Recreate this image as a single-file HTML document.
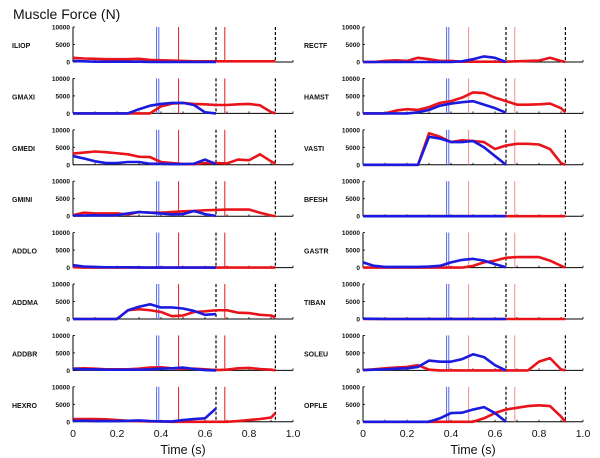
<!DOCTYPE html>
<html><head><meta charset="utf-8"><style>
html,body{margin:0;padding:0;background:#fff;}
svg{display:block;font-family:"Liberation Sans",sans-serif;}
</style></head><body>
<svg id="chart" width="600" height="458" viewBox="0 0 600 458">
<text x="13" y="19" font-size="14" fill="#111">Muscle Force (N)</text>
</svg>
<script>
const tB = [0,.05,.1,.15,.2,.25,.3,.35,.4,.45,.5,.55,.6,.65];
const tR = [0,.05,.1,.15,.2,.25,.3,.35,.4,.45,.5,.55,.6,.65,.7,.75,.8,.85,.9,.92];
const leftMuscles = ["ILIOP","GMAXI","GMEDI","GMINI","ADDLO","ADDMA","ADDBR","HEXRO"];
const rightMuscles = ["RECTF","HAMST","VASTI","BFESH","GASTR","TIBAN","SOLEU","OPFLE"];
// forces in units of 1000 N
const blueData = {
ILIOP:[0.3,0.2,0.1,0.1,0.1,0.1,0.1,0,0,0,0,0,0,0],
GMAXI:[0,0,0,0,0,0,1.2,2.2,2.7,3.0,3.0,2.4,0.3,0],
GMEDI:[2.5,1.8,1.0,0.5,0.5,0.8,0.8,0.3,0.3,0.2,0.2,0.3,1.5,0.2],
GMINI:[0.2,0.2,0.3,0.2,0.3,0.8,1.2,1.0,0.8,0.5,0.6,1.5,0.6,0.1],
ADDLO:[0.7,0.3,0.2,0.1,0.1,0.1,0.05,0,0,0,0,0,0,0],
ADDMA:[0,0,0,0,0,2.5,3.5,4.2,3.3,3.3,3.0,2.3,1.2,1.4],
ADDBR:[0.5,0.3,0.3,0.2,0.2,0.2,0.2,0.3,0.5,0.6,0.8,0.4,0.1,0],
HEXRO:[0.3,0.3,0.2,0.2,0.2,0.3,0.4,0.2,0.1,0.1,0.5,0.8,1.0,3.8],
RECTF:[0,0,0,0,0,0,0,0,0,0.2,0.8,1.6,1.2,0],
HAMST:[0,0,0,0,0,0.3,1.0,2.2,2.8,3.2,3.5,2.5,1.5,0.2],
VASTI:[0,0,0,0,0,0,8.0,7.5,6.5,6.5,6.8,5.0,2.5,0],
BFESH:[0,0,0,0,0,0,0,0,0,0,0,0,0,0],
GASTR:[1.5,0.5,0.2,0.2,0.2,0.2,0.3,0.5,1.5,2.2,2.5,2.0,1.0,0.1],
TIBAN:[0.1,0.05,0,0,0,0,0,0,0,0,0,0,0,0],
SOLEU:[0.1,0.2,0.3,0.5,0.6,1.0,2.8,2.5,2.5,3.2,4.6,3.8,1.5,0],
OPFLE:[0,0,0,0,0,0,0,1.0,2.5,2.6,3.5,4.2,2.5,0]
};
const redData = {
ILIOP:[1.2,1.0,0.9,0.8,0.8,0.8,0.9,0.6,0.5,0.4,0.3,0.2,0.2,0.2,0.2,0.2,0.2,0.2,0.2,0.2],
GMAXI:[0,0,0,0,0,0,0,0,2.0,2.8,3.0,2.7,2.6,2.4,2.4,2.6,2.7,2.3,0.4,0],
GMEDI:[3.2,3.5,3.8,3.6,3.3,3.0,2.3,2.2,0.8,0.5,0.2,0.2,0.5,0.5,0.4,1.5,1.3,3.0,1.0,0.3],
GMINI:[0.3,1.0,0.8,0.8,0.8,0.5,1.2,1.0,1.0,1.2,1.4,1.5,1.7,1.8,1.9,1.9,1.9,1.0,0.2,0],
ADDLO:[0.1,0,0,0,0,0,0,0,0,0,0,0,0,0,0,0,0,0,0,0],
ADDMA:[0,0,0,0,0,2.5,2.8,2.5,2.0,0.8,1.0,2.0,2.2,2.5,2.5,1.8,1.7,1.2,1.0,0.5],
ADDBR:[0.5,0.6,0.5,0.3,0.3,0.3,0.5,0.8,0.9,0.6,0.5,0.5,0.3,0.1,0.2,0.6,0.7,0.4,0.2,0],
HEXRO:[0.8,0.8,0.8,0.7,0.5,0.3,0.2,0.1,0.1,0,0,0,0,0,0,0.2,0.5,0.8,1.2,2.5],
RECTF:[0,0,0.3,0.5,0.3,1.2,0.8,0.3,0.3,0.1,0.1,0.1,0.1,0.1,0.2,0.3,0.4,1.2,0.3,0],
HAMST:[0,0,0,0.8,1.2,1.0,1.8,3.0,3.5,4.5,6.0,5.8,4.5,3.5,2.5,2.5,2.6,2.8,1.5,0.3],
VASTI:[0,0,0,0,0,0,9.0,8.0,6.5,7.0,6.8,6.5,4.5,5.5,6.0,6.0,5.8,4.5,0.5,0],
BFESH:[0,0,0,0,0,0,0,0,0,0,0,0,0,0,0,0,0,0,0,0],
GASTR:[0,0,0,0,0,0,0,0,0,0,0.5,1.5,2.0,2.8,3.0,3.0,3.0,2.0,0.5,0],
TIBAN:[0,0,0,0,0,0,0,0,0,0,0,0,0,0,0,0,0,0,0,0],
SOLEU:[0.1,0.3,0.6,0.8,1.0,1.5,0.2,0,0,0,0,0,0,0,0,0,2.5,3.5,0.3,0],
OPFLE:[0,0,0,0,0,0,0,0,0,0,0,1.0,2.5,3.5,4.0,4.5,4.7,4.5,1.5,0]
};
const yTickLabels = ["10000","5000","0"];
const yTickValues = [10,5,0];
const xTickLabels = ["0","0.2","0.4","0.6","0.8","1.0"];
const xTickValues = [0,0.2,0.4,0.6,0.8,1.0];
const blueMarkers = [0.38,0.39];
const redMarkers = [0.48,0.69];
const dashMarkers = [0.65,0.92];

const NS="http://www.w3.org/2000/svg";
const svg=document.getElementById('chart');
function mk(tag,attrs,parent){const e=document.createElementNS(NS,tag);for(const k in attrs)e.setAttribute(k,attrs[k]);(parent||svg).appendChild(e);return e;}
const cols=[{x0:73,x1:293,nameX:12,muscles:leftMuscles,redC:"#e21a1a"},{x0:363,x1:583,nameX:304,muscles:rightMuscles,redC:"#f58a8a"}];
const PH=35;
function rowY(i){return 62+i*51.4;}

cols.forEach((c,ci)=>{
  const sx=t=>c.x0+t*(c.x1-c.x0);
  c.muscles.forEach((m,i)=>{
    const y0=rowY(i);
    const sy=v=>y0-v/10*PH;
    const g=mk('g',{});
    
    
    const nm=mk('text',{x:c.nameX,y:y0-14,'font-size':7,'font-weight':'bold',fill:'#111'},g);
    nm.textContent=m;
    
    
    yTickValues.forEach((v,k)=>{
      const t=mk('text',{x:c.x0-3,y:sy(v)+2.5,'font-size':6.5,'font-weight':'bold','text-anchor':'end',fill:'#111'},g);
      t.textContent=yTickLabels[k];
      
      
      mk('line',{x1:c.x0,x2:c.x0+2,y1:sy(v),y2:sy(v),stroke:'#000','stroke-width':0.8},g);
    });
    const ya=mk('line',{x1:c.x0,x2:c.x0,y1:sy(10),y2:y0,stroke:'#000','stroke-width':1},g);
    
    
    const xa=mk('line',{x1:c.x0,x2:c.x1,y1:y0,y2:y0,stroke:'#000','stroke-width':1},g);
    
    
    for(let k=1;k<=10;k++){mk('line',{x1:sx(k/10),x2:sx(k/10),y1:y0,y2:y0-2,stroke:'#000','stroke-width':0.8},g);}
    blueMarkers.forEach(t=>{const l=mk('line',{x1:sx(t),x2:sx(t),y1:y0-PH,y2:y0,stroke:'#5566ee','stroke-width':1},g);
      });
    redMarkers.forEach(t=>{const l=mk('line',{x1:sx(t),x2:sx(t),y1:y0-PH,y2:y0,stroke:c.redC,'stroke-width':1},g);
      });
    dashMarkers.forEach(t=>{const l=mk('line',{x1:sx(t),x2:sx(t),y1:y0-PH,y2:y0,stroke:'#000','stroke-width':1.2,'stroke-dasharray':'3,2'},g);
      });
    const rp=mk('polyline',{points:tR.map((t,k)=>sx(t)+','+sy(redData[m][k])).join(' '),fill:'none',stroke:'#e8141a','stroke-width':2.6,'stroke-linejoin':'round'},g);
    
    
    const bp=mk('polyline',{points:tB.map((t,k)=>sx(t)+','+sy(blueData[m][k])).join(' '),fill:'none',stroke:'#1b1be0','stroke-width':2.6,'stroke-linejoin':'round'},g);
    
    
  });
  xTickValues.forEach((v,k)=>{
    const t=mk('text',{x:sx(v),y:437,'font-size':10.5,'text-anchor':'middle',fill:'#111'});
    t.textContent=xTickLabels[k];
    
    
  });
  const xt=mk('text',{x:(c.x0+c.x1)/2,y:454,'font-size':12.5,'text-anchor':'middle',fill:'#111'});
  xt.textContent='Time (s)';
  
  
});
</script>
</body></html>
